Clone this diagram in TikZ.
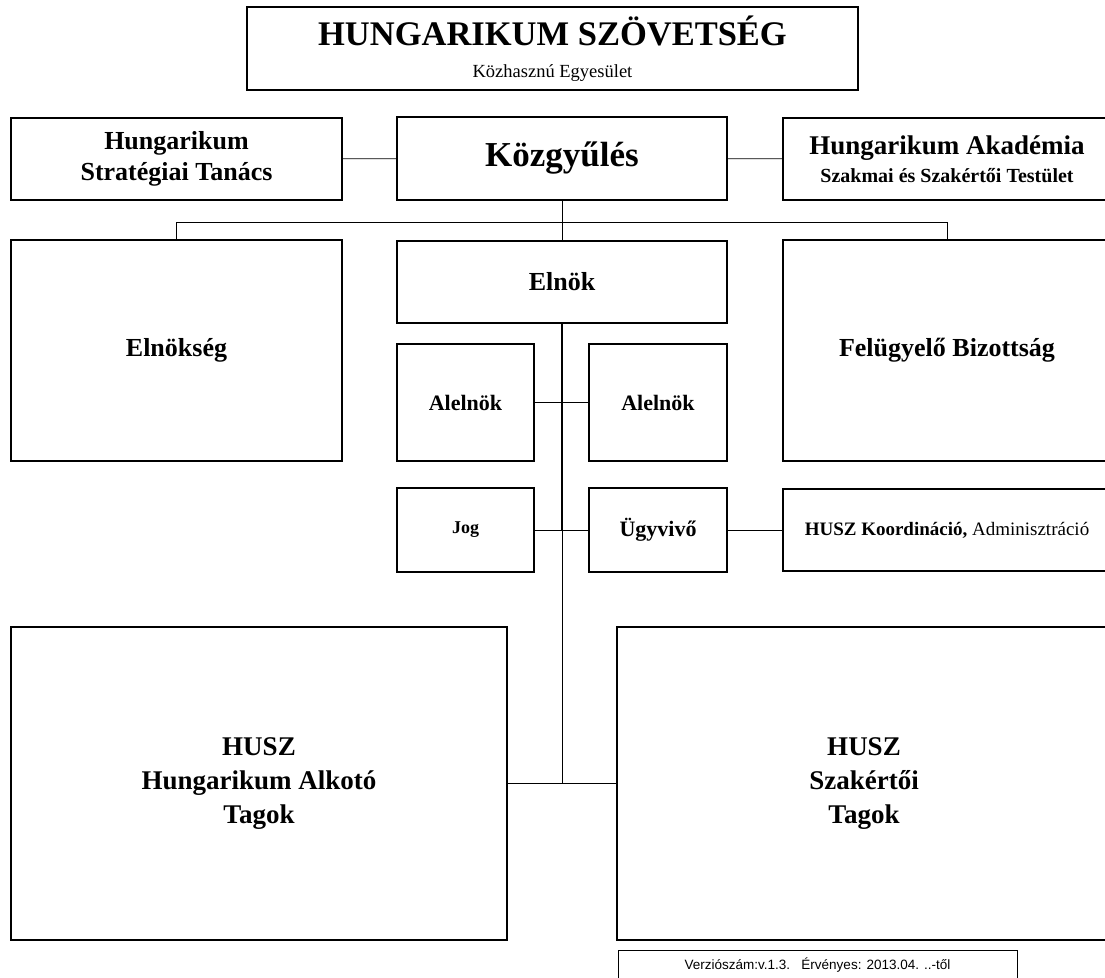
\documentclass[tikz,border=0pt]{standalone}
\usepackage{fontspec}
\setmainfont{Liberation Serif}
\newfontfamily\verfont{Liberation Sans}
\newcommand\fsz[2]{\fontsize{#1}{#2}\selectfont}
\tikzset{
  orgbox/.style={draw, line width=1.2pt, align=center, inner sep=0pt, font=\bfseries},
  conn/.style={line width=0.9pt},
  trunk/.style={line width=1.6pt},
}
\begin{document}
\begin{tikzpicture}[x=1pt, y=-1pt]
  \useasboundingbox (0,0) rectangle (1105,977);

  \begin{scope}[every node/.style={orgbox}]
    % top of the chart
    \node[minimum width=611pt, minimum height=83pt, font=\fsz{18.5}{32}\bfseries] (title) at (552.5,48.5)
      {{\fsz{34.5}{36}HUNGARIKUM SZÖVETSÉG}\\{\mdseries Közhasznú Egyesület}};
    \node[minimum width=331pt, minimum height=82pt, font=\fsz{26}{31}\bfseries] (strat) at (176.5,159)
      {Hungarikum\\Stratégiai Tanács};
    \node[minimum width=330pt, minimum height=83pt, font=\fsz{35}{40}\bfseries] (kozgy) at (562,158.5)
      {Közgyűlés};
    \node[minimum width=328pt, minimum height=82pt, font=\fsz{20}{28}\bfseries] (akad) at (947,159)
      {{\fsz{27}{30}Hungarikum Akadémia}\\Szakmai és Szakértői Testület};

    % second row
    \node[minimum width=331pt, minimum height=221pt, font=\fsz{26}{30}\bfseries] (elnokseg) at (176.5,350.5)
      {Elnökség};
    \node[minimum width=330pt, minimum height=82pt, font=\fsz{26}{30}\bfseries] (elnok) at (562,282)
      {Elnök};
    \node[minimum width=328pt, minimum height=221pt, font=\fsz{26}{30}\bfseries] (felugy) at (947,350.5)
      {Felügyelő Bizottság};

    % under the president
    \node[minimum width=137pt, minimum height=117pt, font=\fsz{22}{26}\bfseries] (alelnokL) at (465.5,402.5)
      {Alelnök};
    \node[minimum width=138pt, minimum height=117pt, font=\fsz{22}{26}\bfseries] (alelnokR) at (658,402.5)
      {Alelnök};
    \node[minimum width=137pt, minimum height=84pt, font=\fsz{18}{22}\bfseries] (jog) at (465.5,530)
      {Jog};
    \node[minimum width=138pt, minimum height=84pt, font=\fsz{22}{26}\bfseries] (ugyv) at (658,530)
      {Ügyvivő};
    \node[minimum width=328pt, minimum height=82pt, font=\fsz{19}{23}] (koord) at (947,530)
      {\bfseries HUSZ Koordináció,\mdseries{} Adminisztráció};

    % members
    \node[minimum width=496pt, minimum height=313pt, font=\fsz{27}{34}\bfseries] (tagokL) at (259,783.5)
      {HUSZ\\Hungarikum Alkotó\\Tagok};
    \node[minimum width=494pt, minimum height=313pt, font=\fsz{27}{34}\bfseries] (tagokR) at (864,783.5)
      {HUSZ\\Szakértői\\Tagok};

    \node[line width=0.8pt, minimum width=399pt, minimum height=30pt, font=\verfont\fsz{13.5}{16}] (verzio) at (817.5,965)
      {Verziószám:v.1.3.\ \ \ Érvényes: 2013.04. ..-től};
  \end{scope}

  \coordinate (bus) at (562,222);

  \begin{scope}[every path/.style={conn}]
    \draw (strat) -- (kozgy);
    \draw (kozgy) -- (akad);
    \draw (kozgy.south) -- (elnok.north);
    \draw (elnokseg.north) -- (elnokseg.north |- bus) -- (felugy.north |- bus) -- (felugy.north);
    \draw (alelnokL) -- (alelnokR);
    \draw (jog) -- (ugyv);
    \draw (ugyv) -- (koord);
    \draw (tagokL) -- (tagokR);
    \draw (elnok.south |- jog.east) -- (elnok.south |- tagokL.east);
  \end{scope}
  \draw[trunk] (elnok.south) -- (elnok.south |- jog.east);
\end{tikzpicture}
\end{document}
